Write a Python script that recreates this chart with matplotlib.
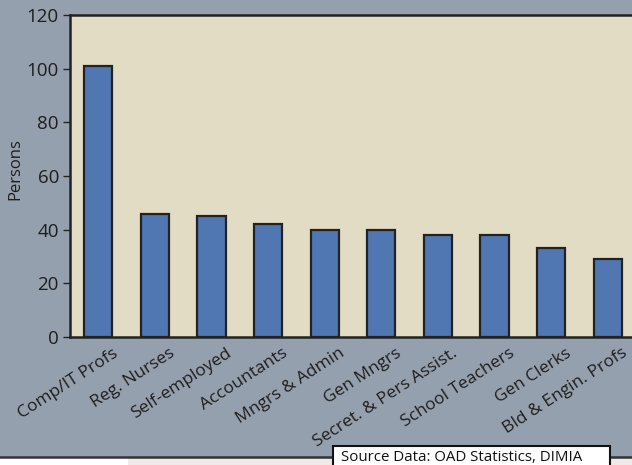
import matplotlib.pyplot as plt
import matplotlib.patches as patches
import matplotlib.transforms as mtransforms
from matplotlib.lines import Line2D

# ---- data ----
occupations = ["Comp/IT Profs", "Reg. Nurses", "Self-employed", "Accountants",
               "Mngrs & Admin", "Gen Mngrs", "Secret. & Pers Assist.",
               "School Teachers", "Gen Clerks", "Bld & Engin. Profs"]
persons = [101, 46, 45, 42, 40, 40, 38, 38, 33, 29]
yticks = [0, 20, 40, 60, 80, 100, 120]
source_text = "Source Data: OAD Statistics, DIMIA"

# ---- colours ----
bg_color = "#95a0ae"
plot_bg = "#e3dcc5"
bar_color = "#5077b1"
edge_color = "#222222"
text_color = "#1e1e1e"

plt.rcParams['font.family'] = ['Open Sans', 'DejaVu Sans']

fig = plt.figure(figsize=(6.32, 4.65), dpi=100, facecolor=bg_color)
ax = fig.add_axes([70 / 632, 128 / 465, 566 / 632, 322 / 465])
ax.set_facecolor(plot_bg)

x = range(len(occupations))
ax.bar(x, persons, width=0.5, color=bar_color, edgecolor=edge_color, linewidth=1.6, zorder=3)

ax.set_xlim(-0.5, len(occupations) - 0.5)
ax.set_ylim(0, 120)
ax.set_yticks(yticks)
ax.set_xticks(list(x))
ax.tick_params(axis="x", length=0, pad=6)
ax.tick_params(axis="y", length=5, width=1, color=edge_color, labelsize=13.5,
               labelcolor=text_color, pad=3)
ax.set_xticklabels(occupations, rotation=33, ha="right", va="top", rotation_mode="anchor",
                   fontsize=12.5, color=text_color)
# shift tick labels to the right like the original
shift = mtransforms.ScaledTranslation(14 / 100, 0, fig.dpi_scale_trans)
for lbl in ax.get_xticklabels():
    lbl.set_transform(lbl.get_transform() + shift)
ax.set_ylabel("Persons", fontsize=12, color=text_color)
ax.yaxis.set_label_coords(-0.083, 0.52)

for side in ["left", "top", "bottom"]:
    ax.spines[side].set_color(edge_color)
    ax.spines[side].set_linewidth(1.8)
ax.spines["right"].set_visible(False)

# bottom strip under the chart
fig.patches.append(patches.Rectangle((0, 0), 1, 8 / 465, transform=fig.transFigure,
                                     facecolor="white", edgecolor="none", zorder=0))
fig.patches.append(patches.Rectangle((128 / 632, 0), 1, 8 / 465, transform=fig.transFigure,
                                     facecolor="#eeeae6", edgecolor="none", zorder=0))
fig.lines.append(Line2D([0, 1], [8 / 465, 8 / 465], transform=fig.transFigure,
                        color="#333333", linewidth=1.8))

# source box
fig.patches.append(patches.Rectangle((333 / 632, -5 / 465), 277 / 632, 24 / 465,
                                     transform=fig.transFigure, facecolor="white",
                                     edgecolor="#111111", linewidth=1.5, zorder=5))
fig.text(341 / 632, 0 / 465, source_text, fontsize=10.8, color="#111111",
         ha="left", va="bottom", zorder=6)

fig.savefig("out.png", dpi=100, facecolor=bg_color)
